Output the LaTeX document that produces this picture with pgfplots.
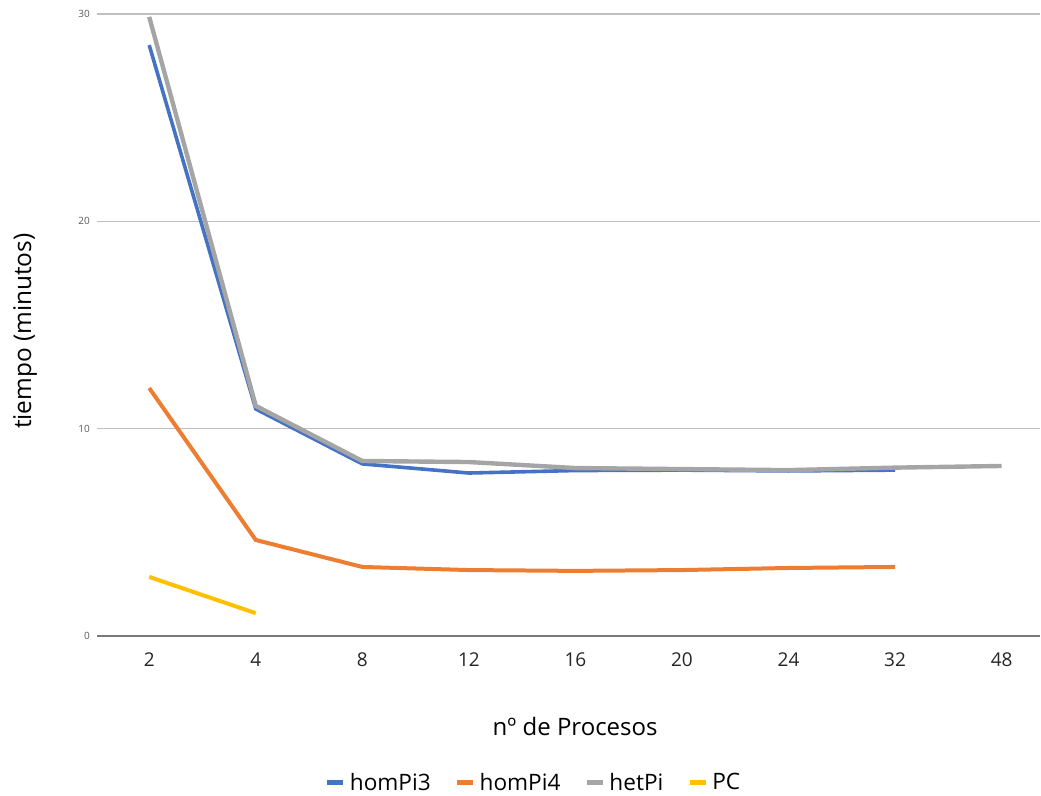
\documentclass[border=0pt]{standalone}
\usepackage{pgfplots}
\pgfplotsset{compat=1.18}
\usepackage{fontspec}
\setmainfont{Open Sans}
\definecolor{cA}{HTML}{4472C4}
\definecolor{cB}{HTML}{ED7D31}
\definecolor{cC}{HTML}{A5A5A5}
\definecolor{cD}{HTML}{FFC000}
\definecolor{grid}{HTML}{D9D9D9}
\definecolor{txt}{HTML}{595959}
\begin{document}
\begin{tikzpicture}
\useasboundingbox (-48.5pt,-80pt) rectangle (472pt,318pt);
\begin{axis}[
  at={(0pt,0pt)}, anchor=south west,
  scale only axis, width=471.5pt, height=311pt,
  xmin=-0.49, xmax=8.36, ymin=0, ymax=30,
  xtick={0,1,2,3,4,5,6,7,8},
  xticklabels={2,4,8,12,16,20,24,32,48},
  ytick={0,10,20,30},
  major tick length=0pt, tick style={draw=none},
  axis x line*=bottom, axis y line*=left,
  x axis line style={draw=txt!80, line width=1pt, -},
  y axis line style={draw=none},
  xmajorgrids=false, ymajorgrids=true, grid style={grid, line width=0.6pt},
  /pgf/number format/assume math mode=true,
  xticklabel style={font=\fontsize{9.5}{11}\selectfont, text=black!85, anchor=center, yshift=-12pt},
  yticklabel style={font=\fontsize{5}{6}\selectfont, text=txt},
  xlabel={nº de Procesos}, ylabel={tiempo (minutos)},
  xlabel style={font=\fontsize{12}{14}\selectfont, at={([yshift=-45.5pt]axis description cs:0.507,0)}, anchor=center},
  ylabel style={font=\fontsize{12.2}{14}\selectfont, at={([xshift=-36pt]axis description cs:0,0.49)}, anchor=center},
  legend style={at={([yshift=-73.5pt]axis description cs:0.464,0)}, anchor=center, draw=none, font=\fontsize{11.3}{13}\selectfont, legend columns=4, /tikz/every even column/.append style={column sep=10pt}},
  legend image code/.code={\draw[#1, line width=2.5pt] (0pt,0pt) -- (8pt,0pt);},
]
\addplot[cA, line width=1.8pt] coordinates {(0,28.5) (1,10.95) (2,8.3) (3,7.86) (4,7.98) (5,8.0) (6,7.96) (7,8.0)};
\addlegendentry{homPi3}
\addplot[cB, line width=2pt] coordinates {(0,11.96) (1,4.63) (2,3.33) (3,3.18) (4,3.14) (5,3.18) (6,3.28) (7,3.33)};
\addlegendentry{homPi4}
\addplot[cC, line width=2.2pt] coordinates {(0,29.86) (1,11.1) (2,8.44) (3,8.39) (4,8.1) (5,8.05) (6,8.0) (7,8.12) (8,8.2)};
\addlegendentry{hetPi}
\addplot[cD, line width=2pt] coordinates {(0,2.85) (1,1.1)};
\addlegendentry{PC}
\end{axis}
\end{tikzpicture}
\end{document}
